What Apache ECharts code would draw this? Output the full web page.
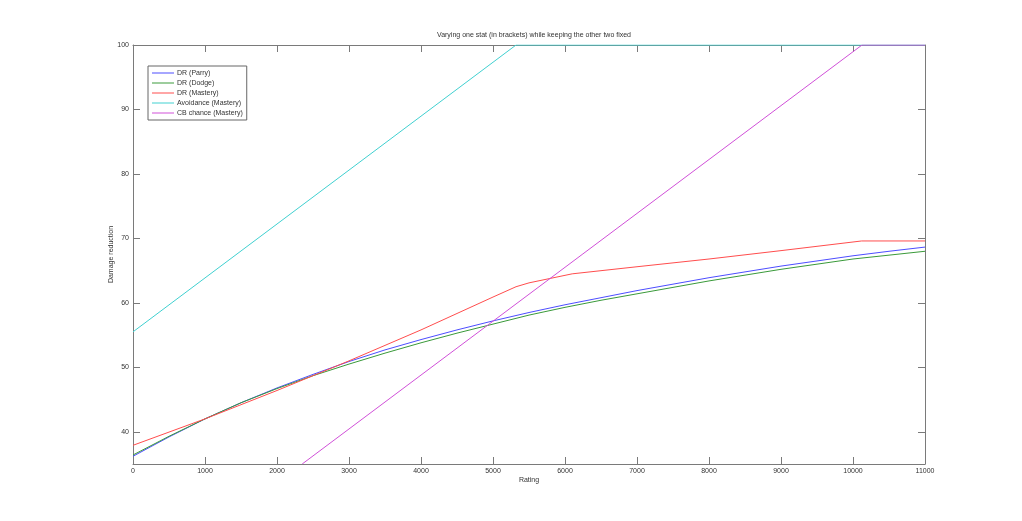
<!DOCTYPE html>
<html>
<head>
<meta charset="utf-8">
<script src="https://cdn.jsdelivr.net/npm/echarts@6/dist/echarts.min.js"></script>
<style>html,body{margin:0;padding:0;background:#fff;}#c{width:1022px;height:521px;}</style>
</head>
<body>
<div id="c"></div>
<script>
var titleText = 'Varying one stat (in brackets) while keeping the other two fixed';
var seriesNames = ['DR (Parry)', 'DR (Dodge)', 'DR (Mastery)', 'Avoidance (Mastery)', 'CB chance (Mastery)'];
var xTicks = [0,1000,2000,3000,4000,5000,6000,7000,8000,9000,10000,11000];
var yTicks = [40,50,60,70,80,90,100];

var drParry = [[0,36.2],[500,39.2],[1000,42.0],[1500,44.5],[2000,46.8],[2500,48.9],[3000,50.9],[3500,52.7],[4000,54.3],[4500,55.8],[5000,57.2],[5500,58.5],[6000,59.7],[6500,60.8],[7000,61.9],[7500,62.9],[8000,63.9],[8500,64.8],[9000,65.7],[9500,66.5],[10000,67.3],[10500,68.0],[11000,68.65]];
var drDodge = [[0,36.4],[500,39.3],[1000,42.0],[1500,44.5],[2000,46.7],[2500,48.7],[3000,50.5],[3500,52.2],[4000,53.8],[4500,55.3],[5000,56.7],[5500,58.1],[6000,59.3],[6500,60.4],[7000,61.4],[7500,62.4],[8000,63.4],[8500,64.3],[9000,65.2],[9500,66.0],[10000,66.8],[10500,67.4],[11000,68.0]];
var drMastery = [[0,37.9],[1000,42.0],[2000,46.4],[3000,51.0],[4000,55.8],[5000,60.9],[5320,62.5],[5500,63.1],[6100,64.5],[7000,65.6],[8000,66.8],[9000,68.1],[10120,69.6],[11000,69.6]];
var avoidance = [[0,55.5],[5320,100],[11000,100]];
var cbChance = [[2350,35],[10125,100],[11000,100]];

var colors = ['#4d4dff','#3a9a3a','#ff4d4d','#40d0d0','#d050d8'];
var dataSets = [drParry, drDodge, drMastery, avoidance, cbChance];

var axisGray = '#7a7a7a';
var labelColor = '#333';
var fontFam = 'Liberation Sans, Arial, sans-serif';

function xAx(pos, show) {
  return {
    type: 'value', position: pos, min: xTicks[0], max: xTicks[xTicks.length - 1], interval: 1000,
    axisLine: { show: true, onZero: false, lineStyle: { color: axisGray, width: 1 } },
    axisTick: { show: true, inside: true, length: 7, lineStyle: { color: axisGray } },
    axisLabel: { show: show, color: labelColor, fontSize: 7, fontFamily: fontFam, margin: 4,
      formatter: function (v) { return String(v); } },
    splitLine: { show: false },
    name: show ? 'Rating' : '', nameLocation: 'middle', nameGap: 13, nameMoveOverlap: false,
    nameTextStyle: { color: labelColor, fontSize: 7, fontFamily: fontFam }
  };
}
function yAx(pos, show) {
  return {
    type: 'value', position: pos, min: 35, max: 100,
    axisLine: { show: true, onZero: false, lineStyle: { color: axisGray, width: 1 } },
    axisTick: { show: true, inside: true, length: 7, customValues: yTicks, lineStyle: { color: axisGray } },
    axisLabel: { show: show, color: labelColor, fontSize: 7, fontFamily: fontFam, margin: 4, customValues: yTicks },
    splitLine: { show: false },
    name: show ? 'Damage reduction' : '', nameLocation: 'middle', nameGap: 18, nameMoveOverlap: false,
    nameTextStyle: { color: labelColor, fontSize: 7, fontFamily: fontFam }
  };
}

var series = seriesNames.map(function (n, i) {
  return {
    name: n, type: 'line', data: dataSets[i], showSymbol: false, symbol: 'none',
    clip: true, animation: false,
    lineStyle: { color: colors[i], width: 1 }, itemStyle: { color: colors[i] },
    xAxisIndex: 0, yAxisIndex: 0
  };
});

var chart = echarts.init(document.getElementById('c'), null, { renderer: 'canvas' });
chart.setOption({
  animation: false,
  backgroundColor: '#fff',
  title: {
    text: titleText, left: 529, top: 27, textAlign: 'center',
    textStyle: { fontSize: 7, fontWeight: 'normal', color: labelColor, fontFamily: fontFam }
  },
  grid: { left: 133, right: 97, top: 45, bottom: 57, containLabel: false },
  legend: {
    orient: 'vertical', left: 148, top: 66,
    data: seriesNames.map(function (n, i) { return { name: n, icon: 'rect', itemStyle: { color: colors[i] } }; }),
    itemWidth: 22, itemHeight: 1, itemGap: 0,
    padding: [2, 4, 2, 4],
    borderColor: '#666', borderWidth: 1, backgroundColor: '#fff',
    textStyle: { fontSize: 7, lineHeight: 10, color: labelColor, fontFamily: fontFam, padding: [0,0,0,-2] },
    selectedMode: false
  },
  xAxis: [xAx('bottom', true), xAx('top', false)],
  yAxis: [yAx('left', true), yAx('right', false)],
  series: series
});
</script>
</body>
</html>
